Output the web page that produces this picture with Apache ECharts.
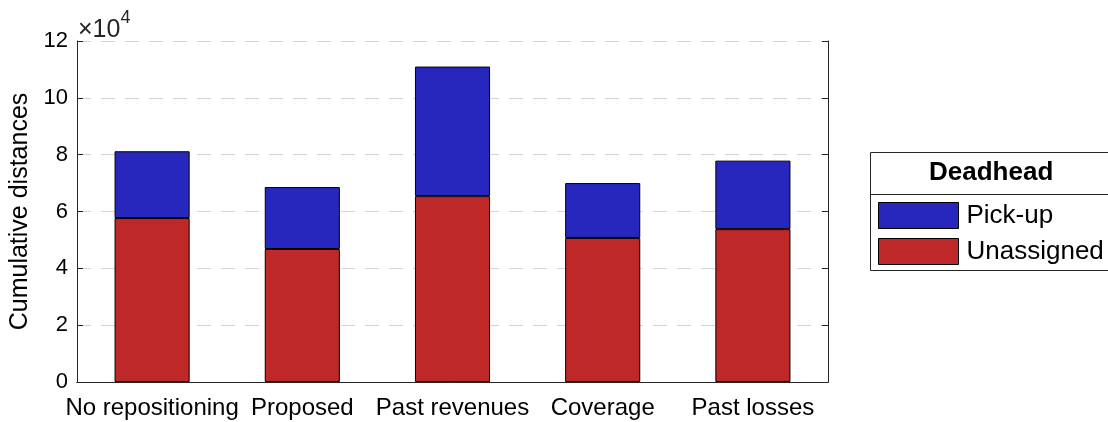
<!DOCTYPE html>
<html>
<head>
<meta charset="utf-8">
<script src="https://cdn.jsdelivr.net/npm/echarts@6/dist/echarts.min.js"></script>
<style>
  html, body { margin: 0; padding: 0; background: #fff; }
  #chart { width: 1108px; height: 422px; }
</style>
</head>
<body>
<div id="chart"></div>
<script>
// Datos (distancias acumuladas)
const categories = ["No repositioning", "Proposed", "Past revenues", "Coverage", "Past losses"];
const unassigned = [57700, 46800, 65400, 50700, 53800];
const pickup = [23500, 21800, 45600, 19300, 24100];
const yTicks = [0, 20000, 40000, 60000, 80000, 100000, 120000];

const font = "'Liberation Sans', Arial, Helvetica, sans-serif";
const axisColor = "#262626";

const chart = echarts.init(document.getElementById("chart"));

const option = {
  backgroundColor: "#ffffff",
  animation: false,
  textStyle: { fontFamily: font },
  grid: { left: 77, right: 280, top: 41, bottom: 40, containLabel: false, outerBoundsMode: "none" },
  legend: {
    orient: "vertical",
    left: 878,
    top: 202,
    padding: 0,
    itemWidth: 80,
    itemHeight: 26,
    itemGap: 9,
    icon: "rect",
    data: ["Pick-up", "Unassigned"],
    textStyle: { fontSize: 26, lineHeight: 26, color: "#000", fontFamily: font, padding: [0, 0, 0, 3] },
    itemStyle: { borderColor: "#000", borderWidth: 1 }
  },
  graphic: [
    {
      type: "rect",
      shape: { x: 870.5, y: 152.5, width: 240, height: 118 },
      style: { fill: "#fff", stroke: axisColor, lineWidth: 1 },
      z: -1
    },
    {
      type: "line",
      shape: { x1: 870, y1: 194.5, x2: 1108, y2: 194.5 },
      style: { stroke: axisColor, lineWidth: 1 }
    },
    {
      type: "text",
      left: 929,
      top: 160,
      style: { text: "Deadhead", font: "bold 26px " + font, fill: "#000" }
    },
    {
      type: "text",
      left: 78,
      top: 9,
      style: {
        text: "{a|×10}{b|4}",
        rich: {
          a: { fontSize: 25, fontFamily: font, fill: axisColor, padding: [9, 0, 0, 0] },
          b: { fontSize: 18, fontFamily: font, fill: axisColor, verticalAlign: "top" }
        }
      }
    }
  ],
  xAxis: [
    {
      type: "category",
      data: categories,
      position: "bottom",
      axisLine: { lineStyle: { color: axisColor, width: 1 } },
      axisTick: { alignWithLabel: true, inside: true, length: 6, lineStyle: { color: axisColor } },
      axisLabel: { color: "#000", fontSize: 24, margin: 14, interval: 0, fontFamily: font }
    },
    {
      type: "category",
      data: categories,
      position: "top",
      axisLine: { lineStyle: { color: axisColor, width: 1 } },
      axisTick: { alignWithLabel: true, inside: true, length: 6, lineStyle: { color: axisColor } },
      axisLabel: { show: false }
    }
  ],
  yAxis: [
    {
      type: "value",
      min: yTicks[0],
      max: yTicks[yTicks.length - 1],
      interval: 20000,
      name: "Cumulative distances",
      nameLocation: "middle",
      nameGap: 34,
      nameTextStyle: { fontSize: 25, color: "#000", fontFamily: font, padding: [0, 0, 8, 0] },
      axisLine: { show: true, lineStyle: { color: axisColor, width: 1 } },
      axisTick: { show: true, inside: true, length: 6, lineStyle: { color: axisColor } },
      axisLabel: {
        color: "#000",
        fontSize: 22,
        margin: 9,
        fontFamily: font,
        formatter: v => String(v / 10000)
      },
      splitLine: { show: true, lineStyle: { color: "#d4d4d4", type: [14, 10], width: 1 } }
    },
    {
      type: "value",
      min: yTicks[0],
      max: yTicks[yTicks.length - 1],
      interval: 20000,
      position: "right",
      axisLine: { show: true, lineStyle: { color: axisColor, width: 1 } },
      axisTick: { show: true, inside: true, length: 6, lineStyle: { color: axisColor } },
      axisLabel: { show: false },
      splitLine: { show: false }
    }
  ],
  series: [
    {
      name: "Unassigned",
      type: "bar",
      stack: "total",
      barWidth: "50%",
      data: unassigned,
      itemStyle: { color: "#bf2828", borderColor: "#000", borderWidth: 1 }
    },
    {
      name: "Pick-up",
      type: "bar",
      stack: "total",
      barWidth: "50%",
      data: pickup,
      itemStyle: { color: "#2727be", borderColor: "#000", borderWidth: 1 }
    }
  ]
};

chart.setOption(option);
window.addEventListener("resize", () => chart.resize());
</script>
</body>
</html>
